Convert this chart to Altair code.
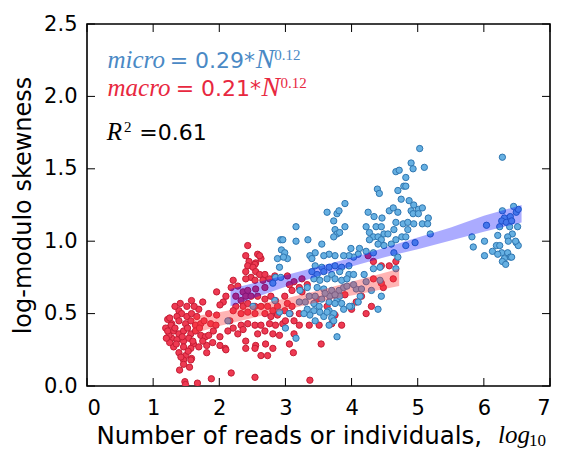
import altair as alt
import pandas as pd

# ---------------- data ----------------
micro_pts = [
    (2.93, 1.01), (2.94, 0.94), (2.88, 0.88),
    (4.67, 1.48), (4.72, 1.49), (4.79, 1.38), (4.70, 1.35), (4.39, 1.36), (4.42, 1.33), (4.75, 1.29),
    (3.90, 1.26), (3.63, 1.20), (3.78, 1.19), (3.81, 1.21), (3.73, 1.14), (3.75, 1.08), (3.78, 1.05),
    (3.82, 1.06), (3.90, 1.10), (3.73, 1.03), (3.16, 1.10), (3.16, 1.00), (3.34, 1.01), (2.96, 1.01),
    (3.55, 0.98), (3.99, 0.95), (4.25, 1.20), (4.34, 1.17), (4.46, 1.16), (4.57, 1.21), (4.63, 1.23),
    (4.70, 1.20), (4.67, 1.13), (4.22, 1.10), (4.27, 1.06), (4.37, 1.10), (4.45, 1.10), (4.49, 1.05),
    (4.33, 1.03), (4.27, 1.01), (4.40, 1.03), (4.45, 1.01), (4.55, 1.05), (4.64, 1.08), (4.67, 1.01),
    (4.40, 0.98), (4.49, 0.97), (4.60, 0.98), (4.12, 0.95), (4.22, 0.93), (4.33, 0.92), (4.10, 0.91),
    (4.03, 0.89), (3.96, 0.90), (3.88, 0.90), (3.75, 0.90), (3.66, 0.91), (3.58, 0.90), (3.45, 0.92),
    (3.37, 0.90), (3.40, 0.88), (2.99, 0.92), (3.03, 0.88), (4.64, 0.92), (4.70, 0.89), (4.82, 0.97),
    (4.78, 1.12), (4.76, 1.03),
    (5.03, 1.64), (4.90, 1.54), (4.93, 1.50), (5.10, 1.51), (4.82, 1.44), (4.82, 1.38), (6.28, 1.58),
    (4.87, 1.28), (4.94, 1.25), (4.90, 1.21), (5.01, 1.22), (5.07, 1.23), (4.93, 1.19), (5.01, 1.19),
    (5.16, 1.16), (4.85, 1.13), (4.94, 1.12), (5.07, 1.12), (5.15, 1.12), (4.85, 1.08), (5.19, 1.05),
    (4.82, 1.03), (4.96, 0.99),
    (6.04, 1.11), (5.82, 1.03), (5.84, 0.96), (6.01, 1.00), (6.01, 0.90), (6.13, 0.93), (6.19, 0.97),
    (6.21, 1.04), (6.24, 1.10), (6.28, 1.21), (6.31, 1.16), (6.40, 1.17), (6.49, 1.20), (6.27, 1.14),
    (6.34, 1.13), (6.42, 1.14), (6.39, 1.10), (6.51, 1.10), (6.43, 1.05), (6.36, 1.03), (6.37, 1.00),
    (6.49, 0.99), (6.52, 0.97), (6.24, 0.97), (6.27, 0.92), (6.36, 0.92), (6.40, 0.89), (6.31, 0.88),
    (6.28, 0.86), (6.21, 0.91), (6.33, 0.84), (6.42, 0.89), (6.48, 1.00), (6.52, 1.22), (6.45, 1.24),
    (3.45, 0.83), (3.55, 0.82), (3.66, 0.82), (3.75, 0.83), (3.85, 0.82), (3.96, 0.83), (3.40, 0.79),
    (3.48, 0.77), (3.58, 0.79), (3.70, 0.77), (3.82, 0.79), (3.96, 0.77), (4.03, 0.77), (3.43, 0.74),
    (3.52, 0.73), (3.63, 0.74), (3.75, 0.74), (3.85, 0.73), (3.93, 0.74), (3.22, 0.66), (3.33, 0.68),
    (3.48, 0.68), (3.58, 0.67), (3.70, 0.66), (3.81, 0.66), (3.88, 0.68), (3.36, 0.62), (3.45, 0.62),
    (3.55, 0.60), (3.67, 0.62), (3.78, 0.60), (3.82, 0.62), (3.30, 0.58), (3.43, 0.57), (3.51, 0.55),
    (3.66, 0.58), (3.75, 0.57), (3.85, 0.57), (3.33, 0.53), (3.43, 0.52), (3.52, 0.51), (3.66, 0.52),
    (3.73, 0.50), (3.88, 0.53), (4.00, 0.55), (3.37, 0.49), (3.58, 0.48), (3.70, 0.47), (3.45, 0.45),
    (3.73, 0.45), (3.78, 0.34), (3.16, 0.33), (3.00, 0.40), (4.13, 0.62), (4.40, 0.53), (4.33, 0.81),
    (4.43, 0.82), (4.67, 0.81), (4.19, 0.77), (3.21, 0.58), (3.06, 0.50), (3.28, 0.50), (3.66, 0.42),
    (3.60, 0.64), (3.75, 0.63), (3.93, 0.69), (4.07, 0.67), (4.15, 0.67), (4.43, 0.73),
    (2.81, 0.71), (2.85, 0.75), (2.93, 0.75), (2.84, 0.59), (2.91, 0.51), (2.13, 0.45), (2.51, 0.55),
    (2.97, 0.89), (2.91, 0.82), (3.63, 0.51), (3.97, 0.55), (4.10, 0.58), (4.03, 0.70), (4.22, 0.72),
    (4.30, 0.66), (4.45, 0.62),
]

macro_pts = [
    (2.43, 0.97), (2.40, 0.90), (2.58, 0.91), (2.63, 0.88), (2.45, 0.86), (2.55, 0.85), (2.61, 0.90),
    (2.54, 0.84), (2.43, 0.83), (2.51, 0.82), (2.55, 0.79), (2.40, 0.79), (2.48, 0.75), (2.61, 0.77),
    (2.69, 0.77), (2.40, 0.74), (2.54, 0.73), (2.66, 0.73), (2.76, 0.74), (2.84, 0.76),
    (2.18, 0.68), (2.28, 0.69), (2.36, 0.65), (2.43, 0.66), (2.55, 0.67), (2.69, 0.68), (1.96, 0.65),
    (2.25, 0.62), (2.33, 0.59), (2.40, 0.62), (2.48, 0.62), (2.58, 0.62), (2.69, 0.60), (2.78, 0.62),
    (2.85, 0.59), (2.06, 0.58), (2.25, 0.55), (2.36, 0.55), (2.43, 0.57), (2.54, 0.55), (2.63, 0.55),
    (2.73, 0.55), (2.81, 0.52), (2.88, 0.55), (1.58, 0.59), (1.51, 0.55), (1.69, 0.53), (1.96, 0.49),
    (2.21, 0.52), (2.33, 0.50), (2.43, 0.51), (2.54, 0.50), (2.69, 0.50), (2.78, 0.48), (2.88, 0.49),
    (1.39, 0.52), (1.43, 0.50), (1.36, 0.48), (1.51, 0.48), (1.58, 0.50), (1.66, 0.48), (1.28, 0.43),
    (1.39, 0.45), (1.49, 0.43), (1.57, 0.45), (1.64, 0.42), (1.72, 0.43), (1.87, 0.43),
    (2.16, 0.45), (2.21, 0.40), (2.33, 0.42), (2.43, 0.43), (2.54, 0.42), (2.63, 0.42), (2.76, 0.43),
    (2.85, 0.42), (2.96, 0.43), (1.31, 0.38), (1.39, 0.36), (1.46, 0.38), (1.57, 0.36), (1.64, 0.38),
    (1.72, 0.35), (1.79, 0.34), (1.91, 0.38), (2.01, 0.34), (2.13, 0.38), (2.28, 0.36), (2.36, 0.39),
    (1.28, 0.33), (1.36, 0.32), (1.46, 0.31), (1.54, 0.33), (1.61, 0.29), (1.84, 0.35), (2.58, 0.36),
    (2.69, 0.38), (2.81, 0.36), (2.91, 0.35), (1.31, 0.27), (1.46, 0.27), (1.57, 0.26), (1.81, 0.28),
    (2.01, 0.28), (2.09, 0.26), (2.40, 0.31), (2.55, 0.28), (2.70, 0.29), (2.81, 0.26),
    (1.39, 0.23), (1.49, 0.21), (1.58, 0.19), (1.81, 0.23), (2.10, 0.25), (2.40, 0.26), (2.54, 0.26),
    (2.63, 0.21), (2.73, 0.21), (1.46, 0.18), (1.57, 0.18), (1.46, 0.15),
    (1.48, 0.03), (1.49, 0.01), (1.67, 0.02), (1.88, 0.05), (2.18, 0.09), (2.54, 0.06), (3.37, 0.04),
    (1.27, 0.42), (1.19, 0.40), (1.22, 0.46), (1.24, 0.35), (1.25, 0.30), (1.33, 0.40), (1.22, 0.38),
    (1.20, 0.33), (1.25, 0.47), (1.33, 0.55), (1.41, 0.57), (1.62, 0.55), (1.70, 0.40), (1.77, 0.45),
    (1.52, 0.40), (1.44, 0.34), (1.35, 0.29), (1.60, 0.31), (1.69, 0.27), (1.53, 0.24), (1.42, 0.20),
    (1.75, 0.31), (1.90, 0.30), (1.95, 0.42), (1.55, 0.13), (1.40, 0.11),
    (3.03, 0.57), (3.10, 0.55), (2.99, 0.52), (3.07, 0.50), (3.21, 0.50), (3.00, 0.45), (3.13, 0.45),
    (3.21, 0.42), (3.36, 0.42), (3.51, 0.42), (3.70, 0.43), (3.85, 0.42), (3.75, 0.49), (4.00, 0.53),
    (4.22, 0.50), (4.30, 0.55), (4.48, 0.68), (3.13, 0.36), (3.06, 0.29), (3.12, 0.23), (3.54, 0.29),
    (3.21, 0.68), (3.10, 0.66), (3.25, 0.65), (2.99, 0.62), (4.63, 0.74),
    (4.25, 0.90), (4.33, 0.86), (4.45, 0.83), (4.57, 0.83), (4.67, 0.86), (4.33, 0.74), (4.45, 0.71),
    (3.03, 0.76), (3.13, 0.72), (3.25, 0.74), (3.33, 0.70), (3.06, 0.70),
    (3.48, 0.60), (3.63, 0.55), (3.90, 0.63), (4.07, 0.58), (4.15, 0.62),
    (2.21, 0.73), (2.10, 0.62), (2.01, 0.56), (1.84, 0.50), (1.75, 0.58),
]

micro_band_x = [2.17, 3.0, 3.5, 4.0, 4.5, 5.0, 5.5, 6.0, 6.57]
micro_band_lo = [0.55, 0.685, 0.76, 0.825, 0.89, 0.945, 1.005, 1.065, 1.13]
micro_band_hi = [0.67, 0.765, 0.825, 0.885, 0.955, 1.025, 1.095, 1.175, 1.25]

macro_band_x = [1.6, 2.0, 2.5, 3.0, 3.5, 4.0, 4.72]
macro_band_lo = [0.36, 0.415, 0.47, 0.525, 0.58, 0.625, 0.69]
macro_band_hi = [0.48, 0.51, 0.555, 0.605, 0.66, 0.72, 0.81]

x_ticks = [0, 1, 2, 3, 4, 5, 6, 7]
y_ticks = [0.0, 0.5, 1.0, 1.5, 2.0, 2.5]

# annotation pieces (data coordinates)
sans_text = ["= 0.29*", "= 0.21*", "=0.61"]
sans_x = [1.25, 1.34, 0.79]
sans_y = [2.196, 2.003, 1.699]
word_text = ["micro", "macro", "R"]
word_x = [0.31, 0.31, 0.30]
word_y = [2.196, 2.003, 1.699]
n_text = ["N", "N"]
n_x = [2.55, 2.64]
n_y = [2.196, 2.003]
sup_text = ["0.12", "0.12", "2"]
sup_x = [2.83, 2.925, 0.56]
sup_y = [2.251, 2.058, 1.754]

BLUE_TXT = "#4a89c5"
RED_TXT = "#e8283f"
sans_col = [BLUE_TXT, RED_TXT, "black"]
word_col = [BLUE_TXT, RED_TXT, "black"]
n_col = [BLUE_TXT, RED_TXT]
sup_col = [BLUE_TXT, RED_TXT, "black"]

# ---------------- chart ----------------
W, H = 463, 362

xs = alt.Scale(domain=[0, 7], nice=False, zero=False)
ys = alt.Scale(domain=[0, 2.5], nice=False, zero=False)

xaxis = alt.Axis(values=x_ticks, format="d", labelPadding=11,
                 title="Number of reads or individuals,", titleX=9, titleY=57,
                 titleAlign="left", titleAnchor="start", titleBaseline="alphabetic",
                 titleFontSize=24.5)
yaxis = alt.Axis(values=y_ticks, format=".1f", labelPadding=10,
                 title="log-modulo skewness", titlePadding=8)


def X(f):
    return alt.X(f, scale=xs, axis=xaxis)


def Y(f):
    return alt.Y(f, scale=ys, axis=yaxis)


micro_df = pd.DataFrame(micro_pts, columns=["x", "y"])
macro_df = pd.DataFrame(macro_pts, columns=["x", "y"])
mband = pd.DataFrame({"x": micro_band_x, "lo": micro_band_lo, "hi": micro_band_hi})
rband = pd.DataFrame({"x": macro_band_x, "lo": macro_band_lo, "hi": macro_band_hi})

red_pts = alt.Chart(macro_df).mark_circle(
    size=40, fill="#ee3a52", stroke="#c41d35", strokeWidth=1, opacity=1, fillOpacity=1, clip=True
).encode(x=X("x:Q"), y=Y("y:Q"))

blue_pts = alt.Chart(micro_df).mark_circle(
    size=40, fill="#66b0e2", stroke="#2f76b0", strokeWidth=1, opacity=1, fillOpacity=1, clip=True
).encode(x=X("x:Q"), y=Y("y:Q"))

red_band = alt.Chart(rband).mark_area(color="#ff3030", opacity=0.36).encode(
    x=X("x:Q"), y=Y("lo:Q"), y2="hi:Q")
blue_band = alt.Chart(mband).mark_area(color="blue", opacity=0.33).encode(
    x=X("x:Q"), y=Y("lo:Q"), y2="hi:Q")

xt_df = pd.DataFrame({"x": x_ticks})
yt_df = pd.DataFrame({"y": y_ticks})
TK = 8
tick_b = alt.Chart(xt_df).mark_rule(color="black", strokeWidth=1).encode(
    x=X("x:Q"), y=alt.value(H), y2=alt.value(H - TK))
tick_t = alt.Chart(xt_df).mark_rule(color="black", strokeWidth=1).encode(
    x=X("x:Q"), y=alt.value(0), y2=alt.value(TK))
tick_l = alt.Chart(yt_df).mark_rule(color="black", strokeWidth=1).encode(
    y=Y("y:Q"), x=alt.value(0), x2=alt.value(TK))
tick_r = alt.Chart(yt_df).mark_rule(color="black", strokeWidth=1).encode(
    y=Y("y:Q"), x=alt.value(W), x2=alt.value(W - TK))

sans_df = pd.DataFrame({"x": sans_x, "y": sans_y, "t": sans_text, "c": sans_col})
word_df = pd.DataFrame({"x": word_x, "y": word_y, "t": word_text, "c": word_col})
n_df = pd.DataFrame({"x": n_x, "y": n_y, "t": n_text, "c": n_col})
sup_df = pd.DataFrame({"x": sup_x, "y": sup_y, "t": sup_text, "c": sup_col})

sans_txt = alt.Chart(sans_df).mark_text(
    font="DejaVu Sans", fontSize=22, align="left", baseline="alphabetic"
).encode(x=X("x:Q"), y=Y("y:Q"), text="t:N", color=alt.Color("c:N", scale=None))
word_txt = alt.Chart(word_df).mark_text(
    font="Liberation Serif", fontStyle="italic", fontSize=25, align="left", baseline="alphabetic"
).encode(x=X("x:Q"), y=Y("y:Q"), text="t:N", color=alt.Color("c:N", scale=None))
n_txt = alt.Chart(n_df).mark_text(
    font="Liberation Serif", fontStyle="italic", fontSize=28, align="left", baseline="alphabetic"
).encode(x=X("x:Q"), y=Y("y:Q"), text="t:N", color=alt.Color("c:N", scale=None))
sup_txt = alt.Chart(sup_df).mark_text(
    font="Liberation Serif", fontSize=15, align="left", baseline="alphabetic"
).encode(x=X("x:Q"), y=Y("y:Q"), text="t:N", color=alt.Color("c:N", scale=None))

log_txt = alt.Chart(pd.DataFrame({"t": ["log"]})).mark_text(
    font="Liberation Serif", fontStyle="italic", fontSize=25, align="left",
    baseline="alphabetic", color="black"
).encode(x=alt.value(411), y=alt.value(419), text="t:N")
sub_txt = alt.Chart(pd.DataFrame({"t": ["10"]})).mark_text(
    font="Liberation Serif", fontSize=17, align="left", baseline="alphabetic", color="black"
).encode(x=alt.value(442), y=alt.value(422), text="t:N")

chart = alt.layer(
    red_pts, blue_pts, red_band, blue_band,
    tick_b, tick_t, tick_l, tick_r,
    word_txt, n_txt, sans_txt, sup_txt, log_txt, sub_txt,
).properties(
    width=W, height=H,
    padding={"left": 79, "top": 16, "right": 5, "bottom": 64},
    autosize="none",
).configure_view(
    stroke="black", strokeWidth=1.6
).configure_axis(
    domain=False, ticks=False, grid=False,
    labelFont="DejaVu Sans", labelFontSize=21, labelColor="black",
    titleFont="DejaVu Sans", titleFontSize=24, titleFontWeight="normal", titleColor="black",
)

chart.save("out.html", embed_options={"renderer": "svg", "actions": False})
